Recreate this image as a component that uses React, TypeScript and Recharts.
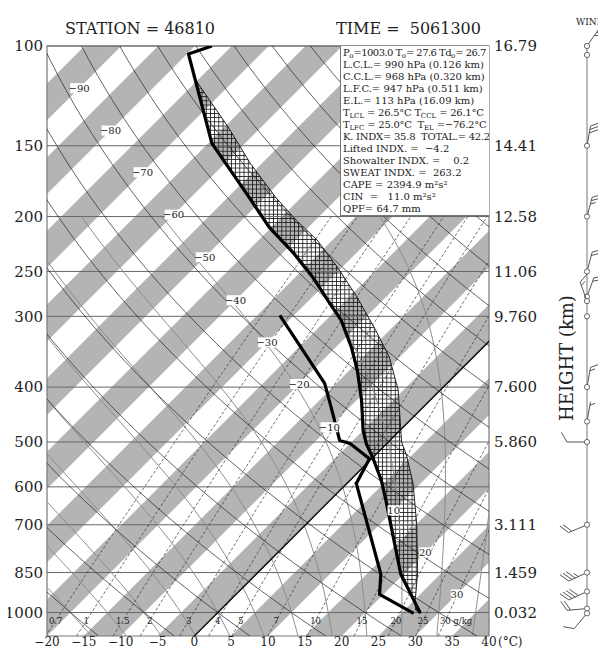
import React from "react";
import {
  ComposedChart,
  Line,
  Area,
  XAxis,
  YAxis,
  ReferenceLine,
  ReferenceArea,
  Scatter,
} from "recharts";

const FONT = "'DejaVu Serif', 'Liberation Serif', serif";

// ---------------- axis values ----------------
const pressureTicks = [100, 150, 200, 250, 300, 400, 500, 600, 700, 850, 1000];
const heightTickPressures = [100, 150, 200, 250, 300, 400, 500, 700, 850, 1000];
const heightTickLabels = ["16.79", "14.41", "12.58", "11.06", "9.760", "7.600", "5.860", "3.111", "1.459", "0.032"];
const temperatureTicks = [-20, -15, -10, -5, 0, 5, 10, 15, 20, 25, 30, 35, 40];

// ---------------- sounding (hPa, °C) ----------------
const envPressure = [1003, 855, 634, 585, 535, 503, 477, 422, 374, 340, 305, 285, 256, 232, 209, 185, 148.5, 103.3, 100];
const envTemperature = [27.6, 19.6, 7.6, 4.3, 0.2, -2.8, -5.0, -9.3, -13.9, -17.9, -22.9, -26.7, -32.6, -38.5, -45.3, -52.1, -64.5, -79.8, -77.7];

const dewPressure = [1003, 929, 855, 592, 535, 503, 497, 434, 394, 299];
const dewTemperature = [26.7, 19.5, 16.9, 1.3, -0.3, -5.0, -6.8, -12.5, -16.6, -31.9];

const parcelPressure = [1003, 990, 947, 850, 700, 592, 528, 500, 405, 354, 318, 277, 245, 220, 203, 185, 161, 139, 113];
const parcelTemperature = [27.6, 26.5, 25.0, 21.7, 15.1, 9.0, 4.3, 1.8, -5.7, -11.4, -16.8, -24.0, -30.8, -37.1, -42.6, -48.5, -56.6, -64.5, -76.2];

const surfacePressure = 1003;
const elPressure = 113;

// ---------------- winds ----------------
const windPressure = [100, 103.7, 150, 200, 250, 277, 282, 300, 400, 460, 500, 700, 850, 918, 984, 1003];
const windDirection = [35, 0, 10, 15, 15, 20, 340, 0, 10, 10, 270, 247, 245, 245, 265, 220];
const windSpeed = [25, 0, 30, 25, 20, 20, 15, 0, 15, 5, 10, 20, 35, 40, 20, 10];

// ---------------- diagram background lines ----------------
const grayBandStart = [-105, -95, -85, -75, -65, -55, -45, -35, -25, -15, -5, 5, 15, 25, 35];
const dryAdiabatT1000 = [-30, -20, -10, 0, 10, 20, 30, 40, 50, 60, 70, 80, 90, 100, 110, 120, 130, 140, 150, 160, 170, 180];
const moistAdiabatT1000 = [-20, -15, -10, -5, 0, 5, 10, 15, 20, 25, 30, 35, 40];
const mixingRatioGkg = [0.7, 1, 1.5, 2, 3, 4, 5, 7, 10, 15, 20, 25, 30];
const mixingRatioText = ["0.7", "1", "1.5", "2", "3", "4", "5", "7", "10", "15", "20", "25", "30"];
const isothermLabelT = [-90, -80, -70, -60, -50, -40, -30, -20, -10, 10, 20, 30];
const isothermLabelP = [118.7, 141, 167, 198.5, 236, 281, 333.5, 395, 471, 660, 783, 929];

// ---------------- geometry ----------------
const P_TOP = 100;
const P_BOT = 1100;
const T_MIN = -20;
const T_MAX = 40;
const CHART_W = 598;
const CHART_H = 642;
const M_TOP = 38;
const X_AXIS_H = 14;
const Y_LEFT_W = 47;
const Y_RIGHT_W = 109;
const PLOT_W = CHART_W - Y_LEFT_W - Y_RIGHT_W;
const PLOT_H = CHART_H - M_TOP - X_AXIS_H;
// °C per decade of pressure so that isotherms run at 45°
const SKEW = PLOT_H / Math.log10(P_BOT / P_TOP) / (PLOT_W / (T_MAX - T_MIN));
const sx = (t: number, p: number) => t + SKEW * Math.log10(P_BOT / p);

// ---------------- thermodynamics for background lines ----------------
const RD = 287.04;
const CP = 1005.7;
const LV = 2.501e6;
const EPS = 0.622;
const satVap = (tk: number) => 6.112 * Math.exp((17.67 * (tk - 273.15)) / (tk - 29.65));
const moistRate = (p: number, tk: number) => {
  const es = satVap(tk);
  const rs = (EPS * es) / (p - es);
  return (RD * tk + LV * rs) / (p * (CP + (LV * LV * rs * EPS) / (RD * tk * tk)));
};

function moistAdiabatPoints(t1000: number) {
  const step = 2;
  const down: [number, number][] = [];
  let tk = t1000 + 273.15;
  let p = 1000;
  while (p < P_BOT - 1e-6) {
    const k1 = moistRate(p, tk);
    const k2 = moistRate(p + step / 2, tk + (k1 * step) / 2);
    tk += k2 * step;
    p += step;
    down.push([p, tk]);
  }
  const up: [number, number][] = [[1000, t1000 + 273.15]];
  tk = t1000 + 273.15;
  p = 1000;
  while (p > 200 + 1e-6) {
    const k1 = moistRate(p, tk);
    const k2 = moistRate(p - step / 2, tk - (k1 * step) / 2);
    tk -= k2 * step;
    p -= step;
    up.push([p, tk]);
  }
  const all = [...down.reverse(), ...up].filter((_, i) => i % 5 === 0);
  return all.map(([pp, t]) => ({ p: pp, x: sx(t - 273.15, pp) }));
}

function dryAdiabatPoints(t1000: number) {
  const pts: { p: number; x: number }[] = [];
  for (let i = 0; i <= 40; i++) {
    const p = P_TOP * Math.pow(P_BOT / P_TOP, i / 40);
    const t = (t1000 + 273.15) * Math.pow(p / 1000, 0.2857) - 273.15;
    pts.push({ p, x: sx(t, p) });
  }
  return pts;
}

const dewFromMixing = (w: number, p: number) => {
  const e = (w * p) / (622 + w);
  const l = Math.log(e / 6.112);
  return (243.5 * l) / (17.67 - l);
};

function mixingPoints(w: number) {
  const pts: { p: number; x: number }[] = [];
  for (let p = P_BOT; p >= 200; p -= 50) pts.push({ p, x: sx(dewFromMixing(w, p), p) });
  return pts;
}

function interpLogP(ps: number[], ts: number[], p: number) {
  for (let i = 0; i < ps.length - 1; i++) {
    const a = ps[i];
    const b = ps[i + 1];
    if ((p <= a && p >= b) || (p >= a && p <= b)) {
      const f = Math.log(a / p) / Math.log(a / b);
      return ts[i] + f * (ts[i + 1] - ts[i]);
    }
  }
  return ts[ts.length - 1];
}

// ---------------- derived chart data ----------------
const toSeries = (ps: number[], ts: number[]) => ps.map((p, i) => ({ p, x: sx(ts[i], p) }));
const envData = toSeries(envPressure, envTemperature);
const dewData = toSeries(dewPressure, dewTemperature);
const parcelData = toSeries(parcelPressure, parcelTemperature);

const capeLevels = Array.from(
  new Set([...envPressure, ...parcelPressure].filter((p) => p <= surfacePressure && p >= elPressure))
).sort((a, b) => b - a);
const capeData = capeLevels.map((p) => ({
  p,
  x: [sx(interpLogP(envPressure, envTemperature, p), p), sx(interpLogP(parcelPressure, parcelTemperature, p), p)],
}));

const bandData = grayBandStart.map((t) => [
  { p: P_TOP, x: [sx(t, P_TOP), sx(t + 5, P_TOP)] },
  { p: P_BOT, x: [t, t + 5] },
]);
const zeroIsotherm = [
  { p: P_BOT, x: sx(0, P_BOT) },
  { p: P_TOP, x: sx(0, P_TOP) },
];
const dryData = dryAdiabatT1000.map(dryAdiabatPoints);
const moistData = moistAdiabatT1000.map(moistAdiabatPoints);
const mixData = mixingRatioGkg.map(mixingPoints);

const MIX_LABEL_P = 1033;
const mixLabelData = mixingRatioGkg.map((w, i) => ({
  p: MIX_LABEL_P,
  x: sx(dewFromMixing(w, MIX_LABEL_P), MIX_LABEL_P),
  label: mixingRatioText[i],
  last: i === mixingRatioGkg.length - 1,
}));
const isoLabelData = isothermLabelT.map((t, i) => ({
  p: isothermLabelP[i],
  x: sx(t, isothermLabelP[i]),
  label: t < 0 ? "\u2212" + Math.abs(t) : String(t),
}));
const windData = windPressure.map((p, i) => ({ p, x: 0.75, dir: windDirection[i], spd: windSpeed[i] }));

// ---------------- custom shapes ----------------
const IsoLabel = (props: any) => {
  const { cx, cy, payload } = props;
  const w = payload.label.length * 5.6 + 1;
  return (
    <g>
      <rect x={cx - w / 2} y={cy - 5} width={w} height={10} fill="#fff" />
      <text x={cx} y={cy} textAnchor="middle" dominantBaseline="central" fontSize={10} fontFamily={FONT} fill="#222">
        {payload.label}
      </text>
    </g>
  );
};

const MixLabel = (props: any) => {
  const { cx, cy, payload } = props;
  return (
    <g>
      <text x={cx} y={cy} textAnchor="middle" dominantBaseline="central" fontSize={8.5} fontFamily={FONT} fill="#222">
        {payload.label}
      </text>
      {payload.last && (
        <text x={cx + 8} y={cy} textAnchor="start" dominantBaseline="central" fontSize={8.5} fontFamily={FONT} fill="#222">
          g/kg
        </text>
      )}
    </g>
  );
};

const TempTick = (props: any) => {
  const { x, y, payload } = props;
  const v = payload.value;
  const s = v < 0 ? "\u2212" + Math.abs(v) : String(v);
  return (
    <g>
      <text x={x} y={y} dy="0.71em" textAnchor="middle" fontSize={12} fontFamily={FONT} fill="#222">
        {s}
      </text>
      {v === 40 && (
        <text x={x + 9} y={y} dy="0.71em" textAnchor="start" fontSize={12} fontFamily={FONT} fill="#222">
          (°C)
        </text>
      )}
    </g>
  );
};

const WindBarb = (props: any) => {
  const { cx, cy, payload } = props;
  const { dir, spd } = payload;
  const els: React.ReactNode[] = [];
  if (spd > 0) {
    const r = (dir * Math.PI) / 180;
    const ux = Math.sin(r);
    const uy = -Math.cos(r);
    const L = 20;
    const tx = cx + ux * L;
    const ty = cy + uy * L;
    els.push(<line key="s" x1={cx} y1={cy} x2={tx} y2={ty} />);
    const a = (60 * Math.PI) / 180;
    const bx = ux * Math.cos(a) - uy * Math.sin(a);
    const by = ux * Math.sin(a) + uy * Math.cos(a);
    let rem = spd;
    let d = 0;
    let k = 0;
    while (rem >= 10) {
      const x0 = tx - ux * d;
      const y0 = ty - uy * d;
      els.push(<line key={"b" + k++} x1={x0} y1={y0} x2={x0 + bx * 11} y2={y0 + by * 11} />);
      d += 3.5;
      rem -= 10;
    }
    if (rem >= 5) {
      if (d === 0) d = 3.5;
      const x0 = tx - ux * d;
      const y0 = ty - uy * d;
      els.push(<line key={"h" + k++} x1={x0} y1={y0} x2={x0 + bx * 5.5} y2={y0 + by * 5.5} />);
    }
  }
  return (
    <g stroke="#555" strokeWidth={1} fill="none">
      {els}
      <circle cx={cx} cy={cy} r={2.6} fill="#fff" stroke="#666" />
    </g>
  );
};

const rowStyle: React.CSSProperties = { height: 12, lineHeight: "12px", overflow: "visible" };
const tightRow: React.CSSProperties = { ...rowStyle, letterSpacing: "-0.25px" };
const tighterRow: React.CSSProperties = { ...rowStyle, letterSpacing: "-0.55px" };
const sub = (s: string) => (
  <span style={{ fontSize: 7, lineHeight: 0, position: "relative", top: 2, letterSpacing: 0 }}>{s}</span>
);

// ---------------- component ----------------
export default function App() {
  const textStyle: React.CSSProperties = { fontFamily: FONT, color: "#222", whiteSpace: "pre", position: "absolute" };
  return (
    <div style={{ position: "relative", width: 598, height: 642 }}>
      <svg width="0" height="0" style={{ position: "absolute" }}>
        <defs>
          <pattern id="hatch" width="4.2" height="4.2" patternUnits="userSpaceOnUse">
            <path d="M0 0.4 H4.2 M0.4 0 V4.2" stroke="#111" strokeWidth="0.8" />
          </pattern>
        </defs>
      </svg>

      <div style={{ position: "absolute", left: -8, top: 0 }}>
        <ComposedChart
          width={CHART_W}
          height={CHART_H}
          layout="vertical"
          margin={{ top: M_TOP, right: 0, bottom: 0, left: 0 }}
        >
          <XAxis
            type="number"
            dataKey="x"
            domain={[T_MIN, T_MAX]}
            allowDataOverflow
            ticks={temperatureTicks}
            interval={0}
            height={X_AXIS_H}
            axisLine={false}
            tickLine={false}
            tickSize={0}
            tickMargin={1}
            tick={<TempTick />}
          />
          <YAxis
            type="number"
            dataKey="p"
            scale="log"
            domain={[P_TOP, P_BOT]}
            allowDataOverflow
            ticks={pressureTicks}
            interval={0}
            width={Y_LEFT_W}
            axisLine={false}
            tickLine={false}
            tickSize={0}
            tickMargin={4}
            tick={{ fontSize: 15, fontFamily: FONT, fill: "#222" }}
          />
          <YAxis
            yAxisId="r"
            orientation="right"
            type="number"
            dataKey="p"
            scale="log"
            domain={[P_TOP, P_BOT]}
            allowDataOverflow
            ticks={heightTickPressures}
            interval={0}
            width={Y_RIGHT_W}
            axisLine={false}
            tickLine={false}
            tickSize={0}
            tickMargin={5}
            tickFormatter={(v: number) => heightTickLabels[heightTickPressures.indexOf(v)] ?? ""}
            tick={{ fontSize: 15, fontFamily: FONT, fill: "#222", textAnchor: "start" }}
          />

          {bandData.map((d, i) => (
            <Area
              key={"band" + i}
              data={d}
              dataKey="x"
              stroke="none"
              fill="#b4b4b4"
              fillOpacity={1}
              isAnimationActive={false}
              dot={false}
              activeDot={false}
            />
          ))}

          {pressureTicks.map((p) => (
            <ReferenceLine key={"iso" + p} y={p} stroke="#666" strokeWidth={1} />
          ))}

          {mixData.map((d, i) => (
            <Line
              key={"mix" + i}
              data={d}
              dataKey="x"
              stroke="#333"
              strokeWidth={0.7}
              strokeDasharray="3 2"
              dot={false}
              activeDot={false}
              isAnimationActive={false}
            />
          ))}

          {moistData.map((d, i) => (
            <Line
              key={"moist" + i}
              data={d}
              dataKey="x"
              stroke="#8c8c8c"
              strokeWidth={1}
              dot={false}
              activeDot={false}
              isAnimationActive={false}
            />
          ))}

          {dryData.map((d, i) => (
            <Line
              key={"dry" + i}
              data={d}
              dataKey="x"
              stroke="#222"
              strokeWidth={0.7}
              dot={false}
              activeDot={false}
              isAnimationActive={false}
            />
          ))}

          <Line
            data={zeroIsotherm}
            dataKey="x"
            stroke="#111"
            strokeWidth={1.5}
            dot={false}
            activeDot={false}
            isAnimationActive={false}
          />

          <Area
            data={capeData}
            dataKey="x"
            stroke="none"
            fill="url(#hatch)"
            fillOpacity={1}
            isAnimationActive={false}
            dot={false}
            activeDot={false}
          />

          <Line
            data={parcelData}
            dataKey="x"
            stroke="#111"
            strokeWidth={0.9}
            dot={false}
            activeDot={false}
            isAnimationActive={false}
          />
          <Line
            data={dewData}
            dataKey="x"
            stroke="#000"
            strokeWidth={3.2}
            strokeLinejoin="round"
            dot={false}
            activeDot={false}
            isAnimationActive={false}
          />
          <Line
            data={envData}
            dataKey="x"
            stroke="#000"
            strokeWidth={3.2}
            strokeLinejoin="round"
            dot={false}
            activeDot={false}
            isAnimationActive={false}
          />

          <Scatter data={isoLabelData} shape={IsoLabel} isAnimationActive={false} />
          <Scatter data={mixLabelData} shape={MixLabel} isAnimationActive={false} />

          <ReferenceArea
            x1={T_MIN}
            x2={T_MAX}
            y1={P_TOP}
            y2={P_BOT}
            fill="none"
            stroke="#777"
            strokeWidth={1.2}
            ifOverflow="visible"
          />
        </ComposedChart>
      </div>

      <div style={{ position: "absolute", left: 522, top: 0 }}>
        <ComposedChart width={76} height={CHART_H} layout="vertical" margin={{ top: M_TOP, right: 0, bottom: X_AXIS_H, left: 0 }}>
          <XAxis type="number" dataKey="x" domain={[0, 1]} hide />
          <YAxis type="number" dataKey="p" scale="log" domain={[P_TOP, P_BOT]} hide />
          <ReferenceLine segment={[{ x: 0.75, y: 100 }, { x: 0.75, y: 1003 }]} stroke="#777" strokeWidth={1} />
          <Scatter data={windData} shape={WindBarb} isAnimationActive={false} />
        </ComposedChart>
      </div>

      {/* titles */}
      <div style={{ ...textStyle, left: 57, top: 11, fontSize: 16 }}>STATION = 46810</div>
      <div style={{ ...textStyle, left: 328, top: 11, fontSize: 16 }}>TIME =  5061300</div>
      <div style={{ ...textStyle, left: 568, top: 9, fontSize: 9 }}>WIND</div>
      <div
        style={{
          ...textStyle,
          left: 558,
          top: 350,
          fontSize: 18,
          transform: "translate(-50%, -50%) rotate(-90deg)",
        }}
      >
        HEIGHT (km)
      </div>

      {/* info box */}
      <div
        style={{
          position: "absolute",
          left: 332,
          top: 38,
          width: 149,
          height: 170,
          background: "#fff",
          borderLeft: "1px solid #777",
          borderBottom: "1px solid #777",
          boxSizing: "border-box",
          overflow: "hidden",
          fontFamily: FONT,
          fontSize: 10,
          color: "#222",
          whiteSpace: "pre",
          paddingLeft: 2,
          paddingTop: 1,
        }}
      >
        <div style={tighterRow}>P{sub("o")}=1003.0 T{sub("o")}= 27.6 Td{sub("o")}= 26.7</div>
        <div style={rowStyle}>L.C.L.= 990 hPa (0.126 km)</div>
        <div style={rowStyle}>C.C.L.= 968 hPa (0.320 km)</div>
        <div style={rowStyle}>L.F.C.= 947 hPa (0.511 km)</div>
        <div style={rowStyle}>E.L.= 113 hPa (16.09 km)</div>
        <div style={tightRow}>T{sub("LCL")} = 26.5°C T{sub("CCL")} = 26.1°C</div>
        <div style={tightRow}>T{sub("LFC")} = 25.0°C  T{sub("EL")} =−76.2°C</div>
        <div style={tightRow}>K. INDX= 35.8  TOTAL.= 42.2</div>
        <div style={rowStyle}>Lifted INDX. =  −4.2</div>
        <div style={rowStyle}>Showalter INDX. =    0.2</div>
        <div style={rowStyle}>SWEAT INDX. =  263.2</div>
        <div style={rowStyle}>CAPE = 2394.9 m²s²</div>
        <div style={rowStyle}>CIN  =   11.0 m²s²</div>
        <div style={rowStyle}>QPF= 64.7 mm</div>
      </div>
    </div>
  );
}
